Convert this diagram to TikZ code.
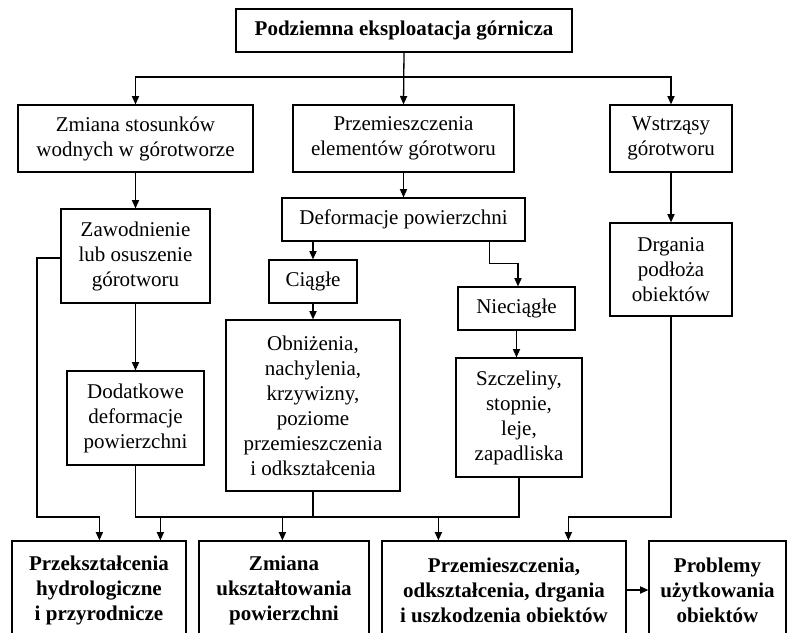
\documentclass[tikz,border=0pt]{standalone}
\usepackage{fontspec}
\setmainfont{Liberation Serif}
\usetikzlibrary{arrows.meta,calc}
\tikzset{
  bx/.style 2 args={draw, line width=0.6pt, inner sep=0pt, align=center,
    minimum width=#1*0.5pt, minimum height=#2*0.5pt,
    font=\fontsize{10.5}{12.5}\selectfont},
  bbx/.style 2 args={bx={#1}{#2}, font=\fontsize{10.5}{12.5}\selectfont\bfseries},
  conn/.style={line width=0.65pt},
  arr/.style={conn, -{Triangle[length=4.2pt,width=3.6pt]}}
}
\begin{document}
\begin{tikzpicture}[x=0.5pt,y=-0.5pt]
\clip (0,0) rectangle (787,632);
\useasboundingbox (0,0) rectangle (787,632);
% nodes
\node[bbx={336}{43}] (top) at (404,30.5) {Podziemna eksploatacja górnicza};
\node[bx={235}{67}] (z1) at (135.5,138.5) {Zmiana stosunków\\wodnych w górotworze};
\node[bx={221}{67}] (z2) at (403.5,138.5) {Przemieszczenia\\elementów górotworu};
\node[bx={122}{67}] (z3) at (671,138.5) {Wstrząsy\\górotworu};
\node[bx={149}{94}] (zaw) at (135.5,256) {Zawodnienie\\lub osuszenie\\górotworu};
\node[bx={137}{94}] (dod) at (135.5,418) {Dodatkowe\\deformacje\\powierzchni};
\node[bx={243}{43}] (def) at (403.5,219.5) {Deformacje powierzchni};
\node[bx={88}{43}] (ciag) at (313,281.5) {Ciągłe};
\node[bx={174}{171}] (obn) at (313,405.5) {Obniżenia,\\nachylenia,\\krzywizny,\\poziome\\przemieszczenia\\i odkształcenia};
\node[bx={117}{43}] (niec) at (516.5,308.5) {Nieciągłe};
\node[bx={126}{119}] (szcz) at (519,417.5) {Szczeliny,\\stopnie,\\leje,\\zapadliska};
\node[bx={122}{93}] (drg) at (671,269.5) {Drgania\\podłoża\\obiektów};
\node[bbx={174}{98}] (b1) at (99,590) {Przekształcenia\\hydrologiczne\\i przyrodnicze};
\node[bbx={170}{98}] (b2) at (284,590) {Zmiana\\ukształtowania\\powierzchni};
\node[bbx={244}{98}] (b3) at (504,590) {Przemieszczenia,\\odkształcenia, drgania\\i uszkodzenia obiektów};
\node[bbx={137}{98}] (b4) at (717.5,590) {Problemy\\użytkowania\\obiektów};
% helper coordinates
\coordinate (hub) at (404,77);
\coordinate (bus) at (136,517);
\coordinate (lft) at (37,517);
\coordinate (a0) at ($(b1.north west)+(88,0)$);
\coordinate (a1) at ($(b1.north west)+(149,0)$);
\coordinate (a2) at ($(b2.north west)+(84,0)$);
\coordinate (a3) at ($(b3.north west)+(57,0)$);
\coordinate (a4) at ($(b3.north west)+(187,0)$);
\coordinate (d1) at ($(def.south east)+(-36,0)$);
% connectors
\draw[arr] (top.south) -- (z2.north);
\draw[arr] (hub) -| (z1.north);
\draw[arr] (hub) -| (z3.north);
\draw[arr] (z1) -- (zaw);
\draw[arr] (zaw) -- (dod);
\draw[arr] (z2) -- (def);
\draw[arr] (ciag.north |- def.south) -- (ciag.north);
\draw[arr] (ciag) -- (obn);
\draw[arr] (d1) |- ($(niec.north)+(0,-23)$) -- ($(niec.north)+(1.5,-23)$) -- ($(niec.north)+(1.5,0)$);
\draw[arr] (niec.south) -- (niec.south |- szcz.north);
\draw[arr] (z3) -- (drg);
% left branch
\draw[arr] ($(zaw.west)+(0,2)$) -| (lft) -| (a0);
% bus
\draw[conn] (dod.south) |- (bus) -- (szcz.south |- bus) -- (szcz.south);
\draw[conn] (obn.south) -- (obn.south |- bus);
\draw[arr] (a1 |- bus) -- (a1);
\draw[arr] (a2 |- bus) -- (a2);
\draw[arr] (a3 |- bus) -- (a3);
\draw[arr] (drg.south) |- (a4 |- bus) -- (a4);
\draw[arr] (b3.east) -- (b4.west);
\end{tikzpicture}
\end{document}
